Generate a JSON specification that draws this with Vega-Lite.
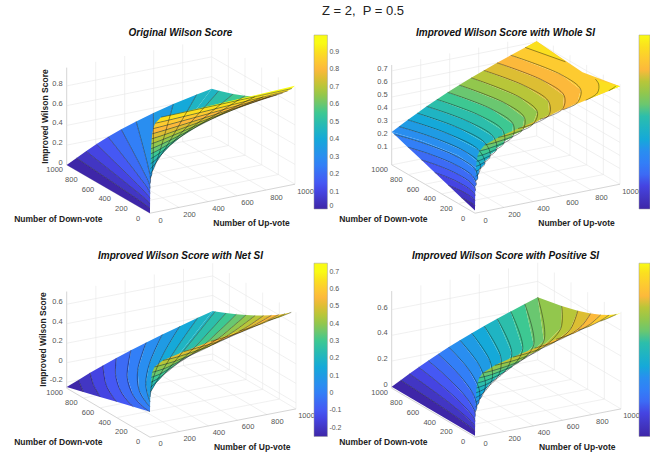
{"$schema":"https://vega.github.io/schema/vega-lite/v6.json","padding":{"top":4.5,"left":0,"right":0,"bottom":0},"background":"white","title":{"text":"Z = 2, \u00a0P = 0.5","font":"Liberation Sans","fontSize":13,"fontWeight":"normal","color":"#222","anchor":"middle","frame":"group","dx":363,"offset":4},
"config":{"view":{"stroke":null},"legend":{"orient":"none","title":null,"gradientLength":174,"gradientThickness":13.4,"gradientStrokeColor":"#999","gradientStrokeWidth":0.5,"labelFont":"Liberation Sans","labelFontSize":7,"labelColor":"#555","labelOffset":3,"direction":"vertical","tickCount":10},"text":{"font":"Liberation Sans"}},
"params":[{"name":"P","value":[{"x":150,"a":0.145,"b":-0.0833,"y":211.7,"e":0.029,"f":0.0483,"k":98.75,"zf":0,"zt":0.985},{"x":150,"a":0.145,"b":-0.0833,"y":211.7,"e":0.029,"f":0.0483,"k":130.6,"zf":-0.02,"zt":0.745},{"x":150,"a":0.146,"b":-0.0833,"y":435.7,"e":0.0283,"f":0.049,"k":97.5,"zf":-0.2615,"zt":0.73},{"x":150,"a":0.146,"b":-0.0833,"y":435.7,"e":0.0283,"f":0.049,"k":128.3,"zf":-0.012,"zt":0.745}]}],
"data":{"values":[
{"kind":"box","u":[0,0],"d":[0,1000],"t":[0,0],"e":1},{"kind":"box","u":[200,200],"d":[0,1000],"t":[0,0]},{"kind":"box","u":[400,400],"d":[0,1000],"t":[0,0]},{"kind":"box","u":[600,600],"d":[0,1000],"t":[0,0]},{"kind":"box","u":[800,800],"d":[0,1000],"t":[0,0]},{"kind":"box","u":[1000,1000],"d":[0,1000],"t":[0,0]},
{"kind":"box","u":[0,1000],"d":[0,0],"t":[0,0],"e":1},{"kind":"box","u":[0,1000],"d":[200,200],"t":[0,0]},{"kind":"box","u":[0,1000],"d":[400,400],"t":[0,0]},{"kind":"box","u":[0,1000],"d":[600,600],"t":[0,0]},{"kind":"box","u":[0,1000],"d":[800,800],"t":[0,0]},{"kind":"box","u":[0,1000],"d":[1000,1000],"t":[0,0]},
{"kind":"box","u":[0,0],"d":[1000,1000],"t":[0,1],"e":1},{"kind":"box","u":[200,200],"d":[1000,1000],"t":[0,1]},{"kind":"box","u":[400,400],"d":[1000,1000],"t":[0,1]},{"kind":"box","u":[600,600],"d":[1000,1000],"t":[0,1]},{"kind":"box","u":[800,800],"d":[1000,1000],"t":[0,1]},{"kind":"box","u":[1000,1000],"d":[1000,1000],"t":[0,1]},
{"kind":"box","u":[1000,1000],"d":[0,0],"t":[0,1]},{"kind":"box","u":[1000,1000],"d":[200,200],"t":[0,1]},{"kind":"box","u":[1000,1000],"d":[400,400],"t":[0,1]},{"kind":"box","u":[1000,1000],"d":[600,600],"t":[0,1]},{"kind":"box","u":[1000,1000],"d":[800,800],"t":[0,1]},
{"kind":"box","p":1,"c":0.2,"u":[0,1000,1000],"d":[1000,1000,0]},{"kind":"box","p":1,"c":0.4,"u":[0,1000,1000],"d":[1000,1000,0]},{"kind":"box","p":1,"c":0.6,"u":[0,1000,1000],"d":[1000,1000,0]},{"kind":"box","p":1,"c":0.8,"u":[0,1000,1000],"d":[1000,1000,0]},
{"kind":"box","p":2,"c":0.1,"u":[0,1000,1000],"d":[1000,1000,0]},{"kind":"box","p":2,"c":0.2,"u":[0,1000,1000],"d":[1000,1000,0]},{"kind":"box","p":2,"c":0.3,"u":[0,1000,1000],"d":[1000,1000,0]},{"kind":"box","p":2,"c":0.4,"u":[0,1000,1000],"d":[1000,1000,0]},{"kind":"box","p":2,"c":0.5,"u":[0,1000,1000],"d":[1000,1000,0]},{"kind":"box","p":2,"c":0.6,"u":[0,1000,1000],"d":[1000,1000,0]},{"kind":"box","p":2,"c":0.7,"u":[0,1000,1000],"d":[1000,1000,0]},
{"kind":"box","p":3,"c":-0.2,"u":[0,1000,1000],"d":[1000,1000,0]},{"kind":"box","p":3,"c":0.0001,"u":[0,1000,1000],"d":[1000,1000,0]},{"kind":"box","p":3,"c":0.2,"u":[0,1000,1000],"d":[1000,1000,0]},{"kind":"box","p":3,"c":0.4,"u":[0,1000,1000],"d":[1000,1000,0]},{"kind":"box","p":3,"c":0.6,"u":[0,1000,1000],"d":[1000,1000,0]},
{"kind":"box","p":4,"c":0.2,"u":[0,1000,1000],"d":[1000,1000,0]},{"kind":"box","p":4,"c":0.4,"u":[0,1000,1000],"d":[1000,1000,0]},{"kind":"box","p":4,"c":0.6,"u":[0,1000,1000],"d":[1000,1000,0]},
{"kind":"zl","p":1,"c":0,"label":"0","u":[0],"d":[1000]},{"kind":"zl","p":1,"c":0.2,"label":"0.2","u":[0],"d":[1000]},{"kind":"zl","p":1,"c":0.4,"label":"0.4","u":[0],"d":[1000]},{"kind":"zl","p":1,"c":0.6,"label":"0.6","u":[0],"d":[1000]},{"kind":"zl","p":1,"c":0.8,"label":"0.8","u":[0],"d":[1000]},
{"kind":"zl","p":2,"c":0.1,"label":"0.1","u":[0],"d":[1000]},{"kind":"zl","p":2,"c":0.2,"label":"0.2","u":[0],"d":[1000]},{"kind":"zl","p":2,"c":0.3,"label":"0.3","u":[0],"d":[1000]},{"kind":"zl","p":2,"c":0.4,"label":"0.4","u":[0],"d":[1000]},{"kind":"zl","p":2,"c":0.5,"label":"0.5","u":[0],"d":[1000]},{"kind":"zl","p":2,"c":0.6,"label":"0.6","u":[0],"d":[1000]},{"kind":"zl","p":2,"c":0.7,"label":"0.7","u":[0],"d":[1000]},
{"kind":"zl","p":3,"c":-0.2,"label":"-0.2","u":[0],"d":[1000]},{"kind":"zl","p":3,"c":0.0001,"label":"0","u":[0],"d":[1000]},{"kind":"zl","p":3,"c":0.2,"label":"0.2","u":[0],"d":[1000]},{"kind":"zl","p":3,"c":0.4,"label":"0.4","u":[0],"d":[1000]},{"kind":"zl","p":3,"c":0.6,"label":"0.6","u":[0],"d":[1000]},
{"kind":"zl","p":4,"c":0.0001,"label":"0","u":[0],"d":[1000]},{"kind":"zl","p":4,"c":0.2,"label":"0.2","u":[0],"d":[1000]},{"kind":"zl","p":4,"c":0.4,"label":"0.4","u":[0],"d":[1000]},{"kind":"zl","p":4,"c":0.6,"label":"0.6","u":[0],"d":[1000]},
{"kind":"ul","label":"0","u":[0],"d":[0]},{"kind":"ul","label":"200","u":[200],"d":[0]},{"kind":"ul","label":"400","u":[400],"d":[0]},{"kind":"ul","label":"600","u":[600],"d":[0]},{"kind":"ul","label":"800","u":[800],"d":[0]},{"kind":"ul","label":"1000","u":[1000],"d":[0]},
{"kind":"dl","label":"0","u":[0],"d":[0]},{"kind":"dl","label":"200","u":[0],"d":[200]},{"kind":"dl","label":"400","u":[0],"d":[400]},{"kind":"dl","label":"600","u":[0],"d":[600]},{"kind":"dl","label":"800","u":[0],"d":[800]},{"kind":"dl","label":"1000","u":[0],"d":[1000]},
{"kind":"ut","label":"Number of Up-vote","u":[700],"d":[0]},{"kind":"dt","label":"Number of Down-vote","u":[0],"d":[600]},
{"kind":"zt","p":1,"c":0.49,"label":"Improved Wilson Score","u":[0],"d":[1000]},{"kind":"zt","p":3,"c":0.238,"label":"Improved Wilson Score","u":[0],"d":[1000]},
{"kind":"lev","p":1,"k":0,"c":0,"v":0.025,"nl":1,"u":[0,0],"d":[0,1000]},
{"kind":"lev","p":1,"k":1,"c":0.05,"v":0.075,"u":[0.2,9.4,28.7,67.6],"d":[0,90.6,371,1000]},
{"kind":"lev","p":1,"k":2,"c":0.1,"v":0.125,"u":[0.44,16,52,133],"d":[0,84,348,1000]},
{"kind":"lev","p":1,"k":3,"c":0.15,"v":0.175,"u":[0.7,22,74,206],"d":[0,78,326,1000]},
{"kind":"lev","p":1,"k":4,"c":0.2,"v":0.225,"u":[1,28,96,286],"d":[0,72,304,1000]},
{"kind":"lev","p":1,"k":5,"c":0.25,"v":0.275,"u":[1.3,34,117,376],"d":[0,66,283,1000]},
{"kind":"lev","p":1,"k":6,"c":0.3,"v":0.325,"u":[1.7,39,138,479],"d":[0,61,262,1000]},
{"kind":"lev","p":1,"k":7,"c":0.35,"v":0.375,"u":[2.2,44,159,598],"d":[0,56,241,1000]},
{"kind":"lev","p":1,"k":8,"c":0.4,"v":0.425,"u":[2.7,50,180,735],"d":[0,50,220,1000]},
{"kind":"lev","p":1,"k":9,"c":0.45,"v":0.465,"u":[3.3,55,200,897],"d":[0,45,200,1000]},
{"kind":"lev","p":1,"k":10,"c":0.478,"v":0.489,"nl":1,"u":[3.7,58,211,1000],"d":[0,42,189,1000]},
{"kind":"lev","p":1,"k":11,"c":0.5,"v":0.525,"u":[4,60,220,1000],"d":[0,40,180,913]},
{"kind":"lev","p":1,"k":12,"c":0.55,"v":0.575,"u":[4.9,65,240,1000],"d":[0,35,160,743]},
{"kind":"lev","p":1,"k":13,"c":0.6,"v":0.625,"u":[6,70,260,1000],"d":[0,30,140,602]},
{"kind":"lev","p":1,"k":14,"c":0.65,"v":0.675,"u":[7.4,74,279,1000],"d":[0,26,121,482]},
{"kind":"lev","p":1,"k":15,"c":0.7,"v":0.725,"u":[9.3,79,298,1000],"d":[0,21,102,380]},
{"kind":"lev","p":1,"k":16,"c":0.75,"v":0.775,"u":[12,84,317,1000],"d":[0,16,83,292]},
{"kind":"lev","p":1,"k":17,"c":0.8,"v":0.825,"u":[16,88,336,1000],"d":[0,12,64,215]},
{"kind":"lev","p":1,"k":18,"c":0.85,"v":0.875,"u":[22.7,92,354,1000],"d":[0,8,46,148]},
{"kind":"lev","p":1,"k":19,"c":0.9,"v":0.925,"u":[36,96,372,1000],"d":[0,4,28,89]},
{"kind":"lev","p":1,"k":20,"c":0.95,"v":0.9725,"u":[76,99,389,1000],"d":[0,0.6,11,38]},
{"kind":"lev","p":1,"k":21,"c":0.996,"nl":1,"u":[1000],"d":[0]},
{"kind":"lev","p":2,"k":0,"c":0,"v":0.019,"nl":1,"u":[0],"d":[0]},
{"kind":"lev","p":2,"k":1,"c":0.0375,"v":0.056,"u":[0.3,2.4,5.9,5.4,0],"d":[0,8,48,113,161]},
{"kind":"lev","p":2,"k":2,"c":0.075,"v":0.094,"u":[0.7,10,19,13,0],"d":[0,33,132,245,322]},
{"kind":"lev","p":2,"k":3,"c":0.1125,"v":0.131,"u":[1.2,11.5,31,36.7,23.7,0],"d":[0,21,109,232,374,484]},
{"kind":"lev","p":2,"k":4,"c":0.15,"v":0.169,"u":[1.7,18,52,60,37,0],"d":[0,25,142,305,500,645]},
{"kind":"lev","p":2,"k":5,"c":0.1875,"v":0.206,"u":[2.4,25.7,78,90,53,0],"d":[0,28,169,372,624,806]},
{"kind":"lev","p":2,"k":6,"c":0.225,"v":0.229,"u":[3.2,35,109,125,72,0],"d":[0,29,192,434,745,967]},
{"kind":"lev","p":2,"k":7,"c":0.2326,"v":0.247,"nl":1,"u":[3.4,41,112,133,74,0],"d":[0,34,178,437,776,1000]},
{"kind":"lev","p":2,"k":8,"c":0.2625,"v":0.281,"u":[4.4,34,136,169,124,50],"d":[0,20,176,422,747,1000]},
{"kind":"lev","p":2,"k":9,"c":0.3,"v":0.319,"u":[6,31,122,210,195,112],"d":[0,12,93,327,664,1000]},
{"kind":"lev","p":2,"k":10,"c":0.3375,"v":0.356,"u":[8,42,164,260,255,175],"d":[0,12,104,331,659,1000]},
{"kind":"lev","p":2,"k":11,"c":0.375,"v":0.394,"u":[11.5,54,211,315,319,241],"d":[0,11,111,330,649,1000]},
{"kind":"lev","p":2,"k":12,"c":0.4125,"v":0.431,"u":[17.5,84,263,376,388,311],"d":[0,13,113,323,633,1000]},
{"kind":"lev","p":2,"k":13,"c":0.45,"v":0.469,"u":[31,99,320,441,462,386],"d":[0,9,110,311,613,1000]},
{"kind":"lev","p":2,"k":14,"c":0.4875,"v":0.506,"u":[67,152,382,511,541,466],"d":[0,8,102,295,587,1000]},
{"kind":"lev","p":2,"k":15,"c":0.525,"v":0.544,"u":[160,248,448,587,625,548],"d":[0,10,89,273,557,1000]},
{"kind":"lev","p":2,"k":16,"c":0.5625,"v":0.581,"u":[297,400,580,694,709,635],"d":[0,19,119,327,635,1000]},
{"kind":"lev","p":2,"k":17,"c":0.6,"v":0.619,"u":[449,504,659,782,806,727],"d":[0,12,93,292,592,1000]},
{"kind":"lev","p":2,"k":18,"c":0.6375,"v":0.656,"u":[605,628,742,875,908,821],"d":[0,6,64,253,543,1000]},
{"kind":"lev","p":2,"k":19,"c":0.67,"nl":1,"u":[1000,1000,1000],"d":[0,450,1000],"z":[0.7305,0.67,0.704]},
{"kind":"ef","p":2,"v":0.69,"u":[921,1000,1000],"d":[1000,655,1000],"z":[0.675,0.675,0.704]},
{"kind":"ef","p":2,"v":0.69,"u":[763,889,973,1000,1000],"d":[0,78,209,295,0],"z":[0.675,0.675,0.675,0.675,0.7305]},
{"kind":"ef","p":2,"v":0.725,"u":[922,984,1000,1000],"d":[0,37,52,0],"z":[0.7125,0.7125,0.7125,0.7305]},
{"kind":"el","p":2,"c":0.675,"u":[921,1000],"d":[1000,655]},
{"kind":"el","p":2,"c":0.675,"u":[763,889,973,1000],"d":[0,78,209,295]},
{"kind":"el","p":2,"c":0.7125,"u":[922,984,1000],"d":[0,37,52]},
{"kind":"lev","p":3,"k":0,"c":-0.25,"v":-0.225,"nl":1,"u":[0],"d":[1000]},
{"kind":"lev","p":3,"k":1,"c":-0.2,"v":-0.175,"u":[0,40,80],"d":[800,900,1000]},
{"kind":"lev","p":3,"k":2,"c":-0.15,"v":-0.125,"u":[0,35,70,160],"d":[600,700,800,1000]},
{"kind":"lev","p":3,"k":3,"c":-0.1,"v":-0.075,"u":[0,28,98,248],"d":[400,500,700,1000]},
{"kind":"lev","p":3,"k":4,"c":-0.05,"v":-0.025,"u":[0,20,80,192,340],"d":[200,300,500,750,1000]},
{"kind":"lev","p":3,"k":5,"c":0.0001,"v":0.025,"u":[0,9,56,186,440],"d":[0,100,300,600,1000]},
{"kind":"lev","p":3,"k":6,"c":0.05,"v":0.075,"u":[0.44,25,95,258,545],"d":[0,100,300,600,1000]},
{"kind":"lev","p":3,"k":7,"c":0.1,"v":0.125,"u":[1,43,142,340,655],"d":[0,100,300,600,1000]},
{"kind":"lev","p":3,"k":8,"c":0.15,"v":0.175,"u":[1.7,63,196,428,775],"d":[0,100,300,600,1000]},
{"kind":"lev","p":3,"k":9,"c":0.2,"v":0.22,"u":[2.7,90,258,525,898],"d":[0,100,300,600,1000]},
{"kind":"lev","p":3,"k":10,"c":0.239,"v":0.245,"nl":1,"u":[3.7,116,313,608,1000],"d":[0,100,300,600,1000]},
{"kind":"lev","p":3,"k":11,"c":0.25,"v":0.275,"u":[4,124,330,632,1000],"d":[0,100,300,600,970]},
{"kind":"lev","p":3,"k":12,"c":0.3,"v":0.325,"u":[6,97,416,746,1000],"d":[0,50,300,600,840]},
{"kind":"lev","p":3,"k":13,"c":0.35,"v":0.375,"u":[9.3,93,510,752,1000],"d":[0,30,300,500,715]},
{"kind":"lev","p":3,"k":14,"c":0.4,"v":0.425,"u":[15.5,135,617,815,1000],"d":[0,30,300,450,600]},
{"kind":"lev","p":3,"k":15,"c":0.45,"v":0.475,"u":[31,197,488,735,1000],"d":[0,30,150,300,490]},
{"kind":"lev","p":3,"k":16,"c":0.5,"v":0.525,"u":[87.5,190,500,790,1000],"d":[0,10,100,250,390]},
{"kind":"lev","p":3,"k":17,"c":0.55,"v":0.575,"u":[233,490,740,1000],"d":[0,50,150,295]},
{"kind":"lev","p":3,"k":18,"c":0.6,"v":0.625,"u":[418,640,775,1000],"d":[0,50,100,208]},
{"kind":"lev","p":3,"k":19,"c":0.65,"v":0.675,"u":[613,775,1000],"d":[0,40,130]},
{"kind":"lev","p":3,"k":20,"c":0.7,"v":0.724,"u":[810,895,1000],"d":[0,20,57]},
{"kind":"lev","p":3,"k":21,"c":0.748,"nl":1,"u":[1000],"d":[0]},
{"kind":"lev","p":4,"k":0,"c":0,"v":0.0185,"nl":1,"u":[0,0],"d":[0,1000]},
{"kind":"lev","p":4,"k":1,"c":0.037,"v":0.0555,"u":[0.32,10,30,50,61],"d":[0,70,323,707,1000]},
{"kind":"lev","p":4,"k":2,"c":0.074,"v":0.0925,"u":[0.7,20,60,100,121],"d":[0,76,334,724,1000]},
{"kind":"lev","p":4,"k":3,"c":0.111,"v":0.1295,"u":[1.1,30,90,150,184],"d":[0,75,326,707,1000]},
{"kind":"lev","p":4,"k":4,"c":0.148,"v":0.1665,"u":[1.7,40,120,200,249],"d":[0,70,309,677,1000]},
{"kind":"lev","p":4,"k":5,"c":0.185,"v":0.2035,"u":[2.4,50,150,250,318],"d":[0,65,288,644,1000]},
{"kind":"lev","p":4,"k":6,"c":0.222,"v":0.2405,"u":[3.2,60,180,300,391],"d":[0,58,266,605,1000]},
{"kind":"lev","p":4,"k":7,"c":0.259,"v":0.2775,"u":[4.3,70,210,350,467],"d":[0,52,242,565,1000]},
{"kind":"lev","p":4,"k":8,"c":0.296,"v":0.3145,"u":[5.8,80,240,400,548],"d":[0,44,218,522,1000]},
{"kind":"lev","p":4,"k":9,"c":0.333,"v":0.3515,"u":[8,90,270,450,633],"d":[0,37,193,480,1000]},
{"kind":"lev","p":4,"k":10,"c":0.37,"v":0.3885,"u":[11.4,100,300,500,722],"d":[0,29,167,435,1000]},
{"kind":"lev","p":4,"k":11,"c":0.407,"v":0.4255,"u":[16.6,110,330,550,815],"d":[0,22,141,391,1000]},
{"kind":"lev","p":4,"k":12,"c":0.444,"v":0.4605,"u":[28,120,360,600,911],"d":[0,14,115,347,1000]},
{"kind":"lev","p":4,"k":13,"c":0.477,"v":0.4975,"u":[52,130,390,650,1000],"d":[0,7,94,312,1000]},
{"kind":"lev","p":4,"k":14,"c":0.518,"v":0.5365,"u":[136,300,500,800,1000],"d":[0,23,103,372,713]},
{"kind":"lev","p":4,"k":15,"c":0.555,"v":0.5735,"u":[260,400,600,800,1000],"d":[0,23,103,257,519]},
{"kind":"lev","p":4,"k":16,"c":0.592,"v":0.6105,"u":[408,550,700,850,1000],"d":[0,32,99,206,365]},
{"kind":"lev","p":4,"k":17,"c":0.629,"v":0.6475,"u":[556,700,850,1000],"d":[0,41,121,243]},
{"kind":"lev","p":4,"k":18,"c":0.666,"v":0.6845,"u":[707,800,900,1000],"d":[0,28,77,142]},
{"kind":"lev","p":4,"k":19,"c":0.703,"v":0.7195,"u":[860,930,1000],"d":[0,25,57]},
{"kind":"lev","p":4,"k":20,"c":0.736,"nl":1,"u":[1000],"d":[0]}
]},
"columns":2,"spacing":0,"bounds":"flush","resolve":{"scale":{"fill":"independent"},"legend":{"fill":"independent"}},
"concat":[
{"width":325,"height":215,
"title":{"text":"Original Wilson Score","font":"Liberation Sans","fontSize":10,"fontWeight":"bold","fontStyle":"italic","color":"#111","anchor":"middle","frame":"group","dx":18,"offset":-16},
"transform":[{"filter":"!isValid(datum.p)||datum.p==1"},{"window":[{"op":"row_number","as":"n"}]},{"calculate":"datum.z||[]","as":"z2"},{"calculate":"datum.t||[]","as":"t2"},{"flatten":["u","d","z2","t2"]},{"window":[{"op":"row_number","as":"i"}]},{"calculate":"P[0]","as":"g"},{"calculate":"isValid(datum.z2)?datum.z2:isValid(datum.t2)?datum.g.zf+datum.t2*(datum.g.zt-datum.g.zf):isValid(datum.c)?datum.c:datum.g.zf","as":"zv"},{"calculate":"datum.g.x+datum.g.a*datum.u+datum.g.b*datum.d","as":"px"},{"calculate":"datum.g.y-datum.g.e*datum.u-datum.g.f*datum.d-datum.g.k*(datum.zv-datum.g.zf)","as":"py"}],
"encoding":{"x":{"field":"px","type":"quantitative","axis":null,"scale":{"domain":[0,325],"nice":false,"zero":false}},"y":{"field":"py","type":"quantitative","axis":null,"scale":{"domain":[235,20],"nice":false,"zero":false}}},
"layer":[
{"transform":[{"filter":"datum.kind=='box'"}],"mark":{"type":"line","strokeWidth":0.6},"encoding":{"detail":{"field":"n"},"order":{"field":"i"},"stroke":{"condition":{"test":"datum.e==1","value":"#b8b8b8"},"value":"#e6e6e6"}}},
{"transform":[{"filter":"datum.kind=='lev'"},{"calculate":"[0,1]","as":"dup"},{"flatten":["dup"]},{"filter":"datum.dup==1?datum.k>0:isValid(datum.v)"},{"calculate":"datum.k-datum.dup","as":"band"},{"calculate":"datum.dup==0?datum.i:100000-datum.i","as":"o"},{"calculate":"datum.dup==0?datum.v:null","as":"fv"},{"joinaggregate":[{"op":"max","field":"fv","as":"bv"}],"groupby":["band"]}],"mark":{"type":"line","strokeWidth":0},"encoding":{"detail":{"field":"band"},"order":{"field":"o"},"fill":{"field":"bv","type":"quantitative","scale":{"nice":false,"zero":false,"domain":[0,0.0497,0.0498,0.0995,0.0996,0.1493,0.1494,0.1991,0.1992,0.2489,0.249,0.2987,0.2988,0.3485,0.3486,0.3983,0.3984,0.4481,0.4482,0.4979,0.498,0.5477,0.5478,0.5975,0.5976,0.6473,0.6474,0.6971,0.6972,0.7469,0.747,0.7967,0.7968,0.8465,0.8466,0.8963,0.8964,0.9461,0.9462,0.996],"range":["#3E26A8","#3E26A8","#4236C3","#4236C3","#4544E2","#4544E2","#4558F4","#4558F4","#3C6BF5","#3C6BF5","#327FF7","#327FF7","#298EF0","#298EF0","#1F9BE4","#1F9BE4","#15A9D9","#15A9D9","#1FB4C3","#1FB4C3","#2CBEAB","#2CBEAB","#3DC892","#3DC892","#6AC770","#6AC770","#92C74D","#92C74D","#B8C639","#B8C639","#DDBE33","#DDBE33","#FCB93B","#FCB93B","#FDCB30","#FDCB30","#FBE01F","#FBE01F","#F9FB14","#F9FB14"]},"legend":{"legendX":314,"legendY":13.5,"values":[0,0.1,0.2,0.3,0.4,0.5,0.6,0.7,0.8,0.9],"labelExpr":"''+datum.value"}}}},
{"transform":[{"filter":"datum.kind=='lev'&&!datum.nl"}],"mark":{"type":"line","strokeWidth":0.55,"stroke":"#111","opacity":0.8,"interpolate":"catmull-rom"},"encoding":{"detail":{"field":"n"},"order":{"field":"i"}}},
{"transform":[{"filter":"datum.kind=='ul'"}],"mark":{"type":"text","fontSize":7.5,"color":"#555","dx":10.5,"dy":7.5},"encoding":{"text":{"field":"label"}}},
{"transform":[{"filter":"datum.kind=='dl'"}],"mark":{"type":"text","fontSize":7.5,"color":"#555","dx":-12,"dy":5.5},"encoding":{"text":{"field":"label"}}},
{"transform":[{"filter":"datum.kind=='zl'"}],"mark":{"type":"text","fontSize":7.5,"color":"#555","align":"right","dx":-4,"dy":-2},"encoding":{"text":{"field":"label"}}},
{"transform":[{"filter":"datum.kind=='ut'"}],"mark":{"type":"text","fontSize":8.5,"fontWeight":"bold","color":"#222","dy":30.5},"encoding":{"text":{"field":"label"}}},
{"transform":[{"filter":"datum.kind=='dt'"}],"mark":{"type":"text","fontSize":8.5,"fontWeight":"bold","color":"#222","dx":-41.7,"dy":34.5},"encoding":{"text":{"field":"label"}}},
{"transform":[{"filter":"datum.kind=='zt'"}],"mark":{"type":"text","fontSize":8.5,"fontWeight":"bold","color":"#222","angle":270,"dy":-21.7},"encoding":{"text":{"field":"label"}}}
]},
{"width":325,"height":215,
"title":{"text":"Improved Wilson Score with Whole SI","font":"Liberation Sans","fontSize":10,"fontWeight":"bold","fontStyle":"italic","color":"#111","anchor":"middle","frame":"group","dx":18,"offset":-16},
"transform":[{"filter":"!isValid(datum.p)||datum.p==2"},{"window":[{"op":"row_number","as":"n"}]},{"calculate":"datum.z||[]","as":"z2"},{"calculate":"datum.t||[]","as":"t2"},{"flatten":["u","d","z2","t2"]},{"window":[{"op":"row_number","as":"i"}]},{"calculate":"P[1]","as":"g"},{"calculate":"isValid(datum.z2)?datum.z2:isValid(datum.t2)?datum.g.zf+datum.t2*(datum.g.zt-datum.g.zf):isValid(datum.c)?datum.c:datum.g.zf","as":"zv"},{"calculate":"datum.g.x+datum.g.a*datum.u+datum.g.b*datum.d","as":"px"},{"calculate":"datum.g.y-datum.g.e*datum.u-datum.g.f*datum.d-datum.g.k*(datum.zv-datum.g.zf)","as":"py"}],
"encoding":{"x":{"field":"px","type":"quantitative","axis":null,"scale":{"domain":[0,325],"nice":false,"zero":false}},"y":{"field":"py","type":"quantitative","axis":null,"scale":{"domain":[235,20],"nice":false,"zero":false}}},
"layer":[
{"transform":[{"filter":"datum.kind=='box'"}],"mark":{"type":"line","strokeWidth":0.6},"encoding":{"detail":{"field":"n"},"order":{"field":"i"},"stroke":{"condition":{"test":"datum.e==1","value":"#b8b8b8"},"value":"#e6e6e6"}}},
{"transform":[{"filter":"datum.kind=='lev'"},{"calculate":"[0,1]","as":"dup"},{"flatten":["dup"]},{"filter":"datum.dup==1?datum.k>0:isValid(datum.v)"},{"calculate":"datum.k-datum.dup","as":"band"},{"calculate":"datum.dup==0?datum.i:100000-datum.i","as":"o"},{"calculate":"datum.dup==0?datum.v:null","as":"fv"},{"joinaggregate":[{"op":"max","field":"fv","as":"bv"}],"groupby":["band"]}],"mark":{"type":"line","strokeWidth":0},"encoding":{"detail":{"field":"band"},"order":{"field":"o"},"fill":{"field":"bv","type":"quantitative","scale":{"nice":false,"zero":false,"domain":[0,0.0374,0.0375,0.0749,0.075,0.1124,0.1125,0.1499,0.15,0.1874,0.1875,0.2249,0.225,0.2624,0.2625,0.2999,0.3,0.3374,0.3375,0.3749,0.375,0.4124,0.4125,0.4499,0.45,0.4874,0.4875,0.5249,0.525,0.5624,0.5625,0.5999,0.6,0.6374,0.6375,0.6749,0.675,0.7124,0.7125,0.75],"range":["#3E26A8","#3E26A8","#4236C3","#4236C3","#4544E2","#4544E2","#4558F4","#4558F4","#3C6BF5","#3C6BF5","#327FF7","#327FF7","#298EF0","#298EF0","#1F9BE4","#1F9BE4","#15A9D9","#15A9D9","#1FB4C3","#1FB4C3","#2CBEAB","#2CBEAB","#3DC892","#3DC892","#6AC770","#6AC770","#92C74D","#92C74D","#B8C639","#B8C639","#DDBE33","#DDBE33","#FCB93B","#FCB93B","#FDCB30","#FDCB30","#FBE01F","#FBE01F","#F9FB14","#F9FB14"]},"legend":{"legendX":314,"legendY":13.5,"gradientThickness":11,"labelExpr":"''"}}}},
{"transform":[{"filter":"datum.kind=='ef'"},{"calculate":"datum.v","as":"bv"}],"mark":{"type":"line","strokeWidth":0},"encoding":{"detail":{"field":"n"},"order":{"field":"i"},"fill":{"field":"bv","type":"quantitative"}}},
{"transform":[{"filter":"(datum.kind=='lev'&&!datum.nl)||datum.kind=='el'"}],"mark":{"type":"line","strokeWidth":0.55,"stroke":"#111","opacity":0.8,"interpolate":"catmull-rom"},"encoding":{"detail":{"field":"n"},"order":{"field":"i"}}},
{"transform":[{"filter":"datum.kind=='ul'"}],"mark":{"type":"text","fontSize":7.5,"color":"#555","dx":10.5,"dy":7.5},"encoding":{"text":{"field":"label"}}},
{"transform":[{"filter":"datum.kind=='dl'"}],"mark":{"type":"text","fontSize":7.5,"color":"#555","dx":-12,"dy":5.5},"encoding":{"text":{"field":"label"}}},
{"transform":[{"filter":"datum.kind=='zl'"}],"mark":{"type":"text","fontSize":7.5,"color":"#555","align":"right","dx":-4,"dy":-2},"encoding":{"text":{"field":"label"}}},
{"transform":[{"filter":"datum.kind=='ut'"}],"mark":{"type":"text","fontSize":8.5,"fontWeight":"bold","color":"#222","dy":30.5},"encoding":{"text":{"field":"label"}}},
{"transform":[{"filter":"datum.kind=='dt'"}],"mark":{"type":"text","fontSize":8.5,"fontWeight":"bold","color":"#222","dx":-41.7,"dy":34.5},"encoding":{"text":{"field":"label"}}}
]},
{"width":325,"height":219,
"title":{"text":"Improved Wilson Score with Net SI","font":"Liberation Sans","fontSize":10,"fontWeight":"bold","fontStyle":"italic","color":"#111","anchor":"middle","frame":"group","dx":18,"offset":-24},
"transform":[{"filter":"!isValid(datum.p)||datum.p==3"},{"window":[{"op":"row_number","as":"n"}]},{"calculate":"datum.z||[]","as":"z2"},{"calculate":"datum.t||[]","as":"t2"},{"flatten":["u","d","z2","t2"]},{"window":[{"op":"row_number","as":"i"}]},{"calculate":"P[2]","as":"g"},{"calculate":"isValid(datum.z2)?datum.z2:isValid(datum.t2)?datum.g.zf+datum.t2*(datum.g.zt-datum.g.zf):isValid(datum.c)?datum.c:datum.g.zf","as":"zv"},{"calculate":"datum.g.x+datum.g.a*datum.u+datum.g.b*datum.d","as":"px"},{"calculate":"datum.g.y-datum.g.e*datum.u-datum.g.f*datum.d-datum.g.k*(datum.zv-datum.g.zf)","as":"py"}],
"encoding":{"x":{"field":"px","type":"quantitative","axis":null,"scale":{"domain":[0,325],"nice":false,"zero":false}},"y":{"field":"py","type":"quantitative","axis":null,"scale":{"domain":[454,235],"nice":false,"zero":false}}},
"layer":[
{"transform":[{"filter":"datum.kind=='box'"}],"mark":{"type":"line","strokeWidth":0.6},"encoding":{"detail":{"field":"n"},"order":{"field":"i"},"stroke":{"condition":{"test":"datum.e==1","value":"#b8b8b8"},"value":"#e6e6e6"}}},
{"transform":[{"filter":"datum.kind=='lev'"},{"calculate":"[0,1]","as":"dup"},{"flatten":["dup"]},{"filter":"datum.dup==1?datum.k>0:isValid(datum.v)"},{"calculate":"datum.k-datum.dup","as":"band"},{"calculate":"datum.dup==0?datum.i:100000-datum.i","as":"o"},{"calculate":"datum.dup==0?datum.v:null","as":"fv"},{"joinaggregate":[{"op":"max","field":"fv","as":"bv"}],"groupby":["band"]}],"mark":{"type":"line","strokeWidth":0},"encoding":{"detail":{"field":"band"},"order":{"field":"o"},"fill":{"field":"bv","type":"quantitative","scale":{"nice":false,"zero":false,"domain":[-0.25,-0.2001,-0.2,-0.1501,-0.15,-0.1001,-0.1,-0.0501,-0.05,-0.0001,0,0.0499,0.05,0.0999,0.1,0.1499,0.15,0.1999,0.2,0.2499,0.25,0.2999,0.3,0.3499,0.35,0.3999,0.4,0.4499,0.45,0.4999,0.5,0.5499,0.55,0.5999,0.6,0.6499,0.65,0.6999,0.7,0.748],"range":["#3E26A8","#3E26A8","#4236C3","#4236C3","#4544E2","#4544E2","#4558F4","#4558F4","#3C6BF5","#3C6BF5","#327FF7","#327FF7","#298EF0","#298EF0","#1F9BE4","#1F9BE4","#15A9D9","#15A9D9","#1FB4C3","#1FB4C3","#2CBEAB","#2CBEAB","#3DC892","#3DC892","#6AC770","#6AC770","#92C74D","#92C74D","#B8C639","#B8C639","#DDBE33","#DDBE33","#FCB93B","#FCB93B","#FDCB30","#FDCB30","#FBE01F","#FBE01F","#F9FB14","#F9FB14"]},"legend":{"legendX":314,"legendY":26.7,"gradientLength":173.3,"values":[-0.2,-0.1,0,0.1,0.2,0.3,0.4,0.5,0.6,0.7],"labelExpr":"''+datum.value"}}}},
{"transform":[{"filter":"datum.kind=='lev'&&!datum.nl"}],"mark":{"type":"line","strokeWidth":0.55,"stroke":"#111","opacity":0.8,"interpolate":"catmull-rom"},"encoding":{"detail":{"field":"n"},"order":{"field":"i"}}},
{"transform":[{"filter":"datum.kind=='ul'"}],"mark":{"type":"text","fontSize":7.5,"color":"#555","dx":10.5,"dy":7},"encoding":{"text":{"field":"label"}}},
{"transform":[{"filter":"datum.kind=='dl'"}],"mark":{"type":"text","fontSize":7.5,"color":"#555","dx":-12,"dy":5},"encoding":{"text":{"field":"label"}}},
{"transform":[{"filter":"datum.kind=='zl'"}],"mark":{"type":"text","fontSize":7.5,"color":"#555","align":"right","dx":-4,"dy":-2},"encoding":{"text":{"field":"label"}}},
{"transform":[{"filter":"datum.kind=='ut'"}],"mark":{"type":"text","fontSize":8.5,"fontWeight":"bold","color":"#222","dy":30},"encoding":{"text":{"field":"label"}}},
{"transform":[{"filter":"datum.kind=='dt'"}],"mark":{"type":"text","fontSize":8.5,"fontWeight":"bold","color":"#222","dx":-41.7,"dy":34.5},"encoding":{"text":{"field":"label"}}},
{"transform":[{"filter":"datum.kind=='zt'"}],"mark":{"type":"text","fontSize":8.5,"fontWeight":"bold","color":"#222","angle":270,"dy":-24},"encoding":{"text":{"field":"label"}}}
]},
{"width":325,"height":219,
"title":{"text":"Improved Wilson Score with Positive SI","font":"Liberation Sans","fontSize":10,"fontWeight":"bold","fontStyle":"italic","color":"#111","anchor":"middle","frame":"group","dx":18,"offset":-24},
"transform":[{"filter":"!isValid(datum.p)||datum.p==4"},{"window":[{"op":"row_number","as":"n"}]},{"calculate":"datum.z||[]","as":"z2"},{"calculate":"datum.t||[]","as":"t2"},{"flatten":["u","d","z2","t2"]},{"window":[{"op":"row_number","as":"i"}]},{"calculate":"P[3]","as":"g"},{"calculate":"isValid(datum.z2)?datum.z2:isValid(datum.t2)?datum.g.zf+datum.t2*(datum.g.zt-datum.g.zf):isValid(datum.c)?datum.c:datum.g.zf","as":"zv"},{"calculate":"datum.g.x+datum.g.a*datum.u+datum.g.b*datum.d","as":"px"},{"calculate":"datum.g.y-datum.g.e*datum.u-datum.g.f*datum.d-datum.g.k*(datum.zv-datum.g.zf)","as":"py"}],
"encoding":{"x":{"field":"px","type":"quantitative","axis":null,"scale":{"domain":[0,325],"nice":false,"zero":false}},"y":{"field":"py","type":"quantitative","axis":null,"scale":{"domain":[454,235],"nice":false,"zero":false}}},
"layer":[
{"transform":[{"filter":"datum.kind=='box'"}],"mark":{"type":"line","strokeWidth":0.6},"encoding":{"detail":{"field":"n"},"order":{"field":"i"},"stroke":{"condition":{"test":"datum.e==1","value":"#b8b8b8"},"value":"#e6e6e6"}}},
{"transform":[{"filter":"datum.kind=='lev'"},{"calculate":"[0,1]","as":"dup"},{"flatten":["dup"]},{"filter":"datum.dup==1?datum.k>0:isValid(datum.v)"},{"calculate":"datum.k-datum.dup","as":"band"},{"calculate":"datum.dup==0?datum.i:100000-datum.i","as":"o"},{"calculate":"datum.dup==0?datum.v:null","as":"fv"},{"joinaggregate":[{"op":"max","field":"fv","as":"bv"}],"groupby":["band"]}],"mark":{"type":"line","strokeWidth":0},"encoding":{"detail":{"field":"band"},"order":{"field":"o"},"fill":{"field":"bv","type":"quantitative","scale":{"nice":false,"zero":false,"domain":[0,0.0369,0.037,0.0739,0.074,0.1109,0.111,0.1479,0.148,0.1849,0.185,0.2219,0.222,0.2589,0.259,0.2959,0.296,0.3329,0.333,0.3699,0.37,0.4069,0.407,0.4439,0.444,0.4809,0.481,0.5179,0.518,0.5549,0.555,0.5919,0.592,0.6289,0.629,0.6659,0.666,0.7029,0.703,0.74],"range":["#3E26A8","#3E26A8","#4236C3","#4236C3","#4544E2","#4544E2","#4558F4","#4558F4","#3C6BF5","#3C6BF5","#327FF7","#327FF7","#298EF0","#298EF0","#1F9BE4","#1F9BE4","#15A9D9","#15A9D9","#1FB4C3","#1FB4C3","#2CBEAB","#2CBEAB","#3DC892","#3DC892","#6AC770","#6AC770","#92C74D","#92C74D","#B8C639","#B8C639","#DDBE33","#DDBE33","#FCB93B","#FCB93B","#FDCB30","#FDCB30","#FBE01F","#FBE01F","#F9FB14","#F9FB14"]},"legend":{"legendX":314,"legendY":26.7,"gradientLength":173.3,"gradientThickness":11,"labelExpr":"''"}}}},
{"transform":[{"filter":"datum.kind=='lev'&&!datum.nl"}],"mark":{"type":"line","strokeWidth":0.55,"stroke":"#111","opacity":0.8,"interpolate":"catmull-rom"},"encoding":{"detail":{"field":"n"},"order":{"field":"i"}}},
{"transform":[{"filter":"datum.kind=='ul'"}],"mark":{"type":"text","fontSize":7.5,"color":"#555","dx":10.5,"dy":7},"encoding":{"text":{"field":"label"}}},
{"transform":[{"filter":"datum.kind=='dl'"}],"mark":{"type":"text","fontSize":7.5,"color":"#555","dx":-12,"dy":5},"encoding":{"text":{"field":"label"}}},
{"transform":[{"filter":"datum.kind=='zl'"}],"mark":{"type":"text","fontSize":7.5,"color":"#555","align":"right","dx":-4,"dy":-2},"encoding":{"text":{"field":"label"}}},
{"transform":[{"filter":"datum.kind=='ut'"}],"mark":{"type":"text","fontSize":8.5,"fontWeight":"bold","color":"#222","dy":30},"encoding":{"text":{"field":"label"}}},
{"transform":[{"filter":"datum.kind=='dt'"}],"mark":{"type":"text","fontSize":8.5,"fontWeight":"bold","color":"#222","dx":-41.7,"dy":34.5},"encoding":{"text":{"field":"label"}}}
]}
]}
